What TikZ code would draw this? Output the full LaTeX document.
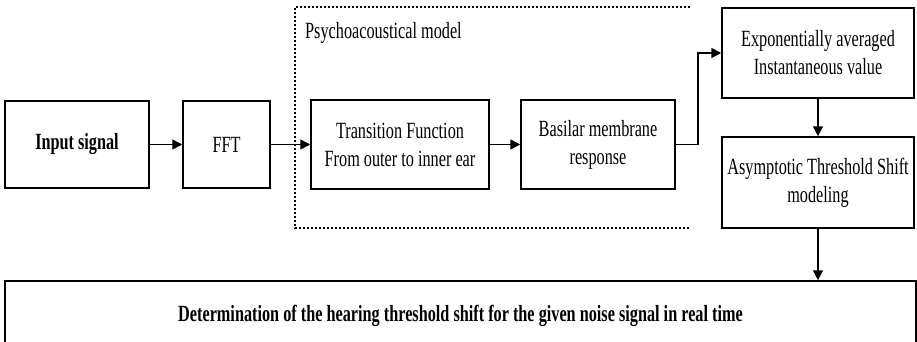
\documentclass[tikz,border=0pt]{standalone}
\usepackage{fontspec}
\setmainfont{Liberation Serif}[FakeStretch=0.70]
\usetikzlibrary{arrows.meta}
\begin{document}
\begin{tikzpicture}[x=1pt,y=-1pt,
  box/.style={draw, line width=1.5pt, inner sep=2pt, align=center,
    font=\fontsize{23.2}{28}\selectfont},
  conn/.style={line width=1.5pt, -{Triangle[length=10pt,width=10pt]}},
  grp/.style={line width=1.4pt, dash pattern=on 2pt off 2pt}]
\useasboundingbox (0,0) rectangle (917,342);
\clip (0,0) rectangle (917,342);
\node[box, minimum width=144pt, minimum height=87pt] (in) at (77,144.5) {\bfseries Input signal};
\node[box, minimum width=87pt, minimum height=87pt] (fft) at (226.5,144.5) {FFT};
\node[box, minimum width=178pt, minimum height=89pt] (tf) at (400,144.5) {Transition Function\\From outer to inner ear};
\node[box, minimum width=154pt, minimum height=89pt] (bm) at (598,144.5) {Basilar membrane\\response};
\node[box, minimum width=192pt, minimum height=90pt] (exp) at (818,53) {Exponentially averaged\\Instantaneous value};
\node[box, minimum width=192pt, minimum height=91pt] (asy) at (818,182.5) {Asymptotic Threshold Shift\\modeling};
\node[box, minimum width=911pt, minimum height=69pt] (det) at (460.5,315.5) {\bfseries Determination of the hearing threshold shift for the given noise signal in real time};
\node[anchor=west, inner sep=0pt, font=\fontsize{23.2}{28}\selectfont] (lbl) at (305,33) {Psychoacoustical model};
\coordinate (gtr) at (690,7);
\coordinate (gbr) at (690,228);
\draw[grp] (gtr) -- (295,7) -- (295,228) -- (gbr);
\draw[conn] (in) -- (fft);
\draw[conn] (fft) -- (tf);
\draw[conn] (tf) -- (bm);
\coordinate (bend) at (698,144.5);
\draw[conn] (bm.east) -- (bend) |- (exp.west);
\draw[conn] (exp) -- (asy);
\draw[conn] (asy.south) -- (asy.south |- det.north);
\end{tikzpicture}
\end{document}
